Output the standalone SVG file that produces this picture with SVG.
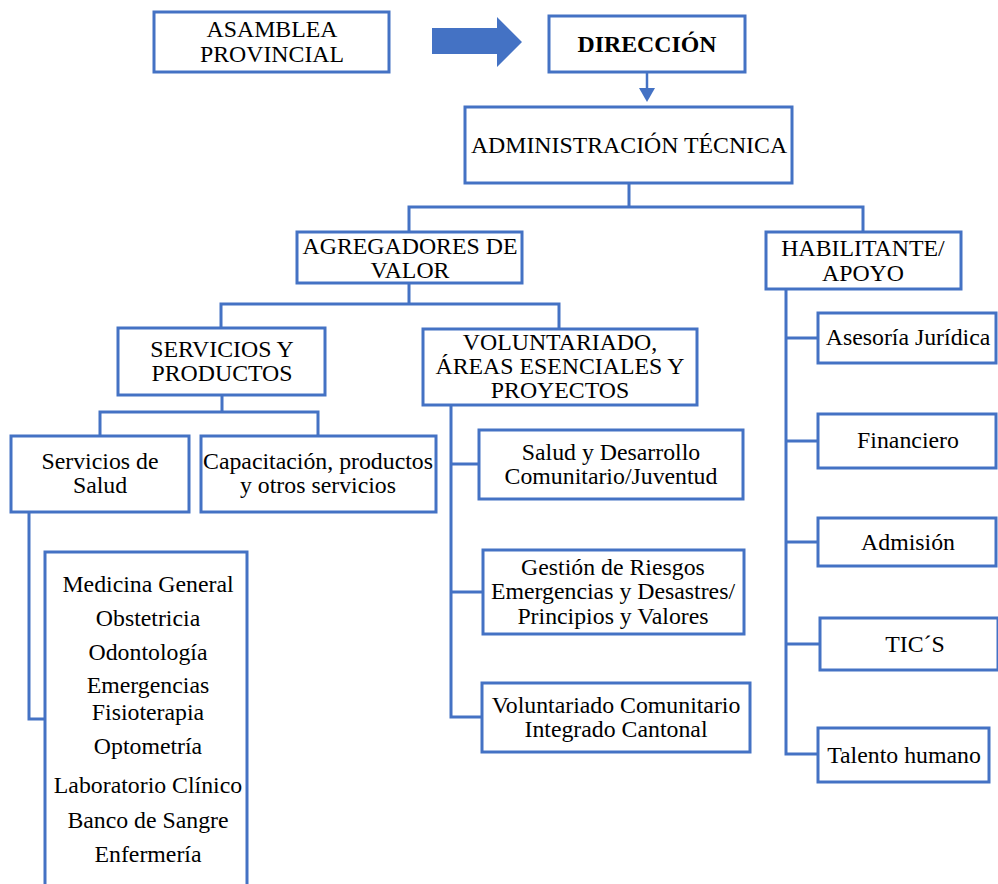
<svg xmlns="http://www.w3.org/2000/svg" width="998" height="884" viewBox="0 0 998 884">
<style>
.b{fill:#fff;stroke:#4472C4;stroke-width:3}
.t{font-family:"Liberation Serif","Times New Roman",serif;font-size:23.8px;fill:#000;text-anchor:middle}
.bold{font-weight:bold}
.c{fill:none;stroke:#4472C4;stroke-width:3}
.a{fill:#4472C4;stroke:none}
</style>
<rect width="998" height="884" fill="#fff"/>
<g id="connectors">
<path class="a" d="M432,28 H497 V17 L522,42 L497,67 V54 H432 Z"/>
<line class="c" x1="647" y1="72" x2="647" y2="90" style="stroke-width:2.5"/>
<path class="a" d="M639,88 H655 L647,102 Z"/>
<path class="c" d="M629,183 V207 M409,232 V207 H863 V232"/>
<path class="c" d="M409,283 V304 M221,328 V304 H559 V329"/>
<path class="c" d="M222,395 V412 M100,436 V412 H318 V436"/>
<path class="c" d="M29,512 V719 H45"/>
<path class="c" d="M451,405 V717 H482 M451,464 H479 M451,592 H483"/>
<path class="c" d="M786,289 V754 H818 M786,338 H818 M786,441 H818 M786,542 H818 M786,644 H820"/>
</g>
<g id="asamblea"><rect class="b" x="154" y="12" width="235" height="60"/><text class="t" x="272" y="37">ASAMBLEA</text><text class="t" x="272" y="62">PROVINCIAL</text></g>
<g id="direccion"><rect class="b" x="549" y="16" width="196" height="56"/><text class="t bold" x="647" y="52">DIRECCIÓN</text></g>
<g id="admin"><rect class="b" x="465" y="107" width="327" height="76"/><text class="t" x="629" y="153">ADMINISTRACIÓN TÉCNICA</text></g>
<g id="agregadores"><rect class="b" x="297" y="232" width="225" height="51"/><text class="t" x="410" y="254">AGREGADORES DE</text><text class="t" x="410" y="278">VALOR</text></g>
<g id="habilitante"><rect class="b" x="766" y="232" width="195" height="57"/><text class="t" x="863" y="256">HABILITANTE/</text><text class="t" x="863" y="281">APOYO</text></g>
<g id="servicios"><rect class="b" x="118" y="328" width="207" height="67"/><text class="t" x="222" y="357">SERVICIOS Y</text><text class="t" x="222" y="381">PRODUCTOS</text></g>
<g id="voluntariado"><rect class="b" x="423" y="329" width="274" height="76"/><text class="t" x="560" y="350">VOLUNTARIADO,</text><text class="t" x="560" y="374">ÁREAS ESENCIALES Y</text><text class="t" x="560" y="398">PROYECTOS</text></g>
<g id="salud"><rect class="b" x="11" y="436" width="178" height="76"/><text class="t" x="100" y="469">Servicios de</text><text class="t" x="100" y="493">Salud</text></g>
<g id="capacitacion"><rect class="b" x="201" y="436" width="235" height="76"/><text class="t" x="318" y="469">Capacitación, productos</text><text class="t" x="318" y="493">y otros servicios</text></g>
<g id="lista"><path class="b" d="M45,890 V552 H247 V890"/>
<text class="t" x="148" y="592">Medicina General</text>
<text class="t" x="148" y="626">Obstetricia</text>
<text class="t" x="148" y="660">Odontología</text>
<text class="t" x="148" y="693">Emergencias</text>
<text class="t" x="148" y="720">Fisioterapia</text>
<text class="t" x="148" y="754">Optometría</text>
<text class="t" x="148" y="793">Laboratorio Clínico</text>
<text class="t" x="148" y="828">Banco de Sangre</text>
<text class="t" x="148" y="862">Enfermería</text>
</g>
<g id="saludDesarrollo"><rect class="b" x="479" y="430" width="264" height="69"/><text class="t" x="611" y="460">Salud y Desarrollo</text><text class="t" x="611" y="484">Comunitario/Juventud</text></g>
<g id="gestion"><rect class="b" x="483" y="550" width="261" height="84"/><text class="t" x="613" y="575">Gestión de Riesgos</text><text class="t" x="613" y="599">Emergencias y Desastres/</text><text class="t" x="613" y="624">Principios y Valores</text></g>
<g id="voluntariadoCom"><rect class="b" x="482" y="683" width="268" height="69"/><text class="t" x="616" y="713">Voluntariado Comunitario</text><text class="t" x="616" y="737">Integrado Cantonal</text></g>
<g id="asesoria"><rect class="b" x="818" y="313" width="178" height="50"/><text class="t" x="908" y="345">Asesoría Jurídica</text></g>
<g id="financiero"><rect class="b" x="818" y="414" width="178" height="54"/><text class="t" x="908" y="448">Financiero</text></g>
<g id="admision"><rect class="b" x="818" y="518" width="178" height="48"/><text class="t" x="908" y="550">Admisión</text></g>
<g id="tics"><rect class="b" x="820" y="618" width="178" height="52"/><text class="t" x="915" y="652">TIC´S</text></g>
<g id="talento"><rect class="b" x="818" y="728" width="171" height="54"/><text class="t" x="904" y="763">Talento humano</text></g>
</svg>
